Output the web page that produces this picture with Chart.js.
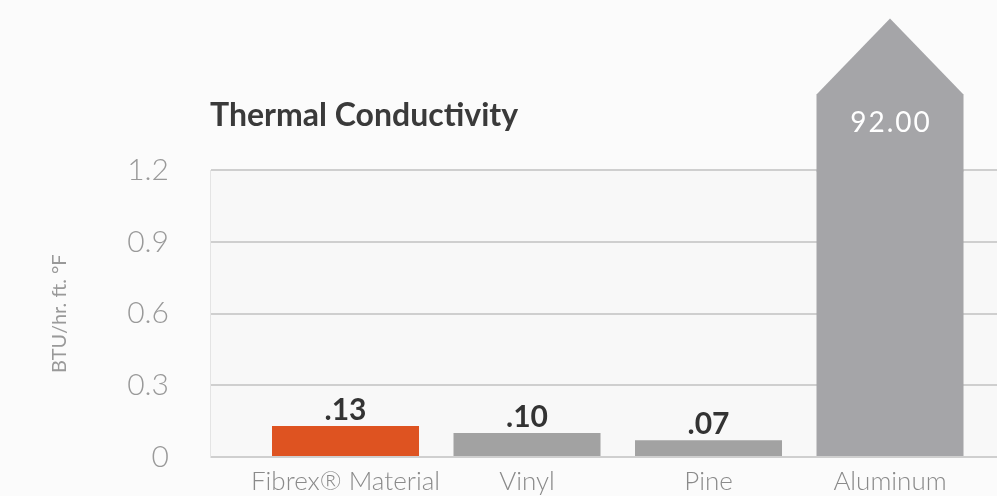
<!DOCTYPE html>
<html><head><meta charset="utf-8">
<script src="https://cdn.jsdelivr.net/npm/chart.js@4.4.1/dist/chart.umd.min.js"></script>
<style>html,body{margin:0;padding:0;background:#fbfbfb;} #wrap{width:997px;height:496px;position:relative;}</style>
</head><body><div id="wrap"><canvas id="c"></canvas></div>
<script>
const chartTitle = 'Thermal Conductivity';
const yAxisTitle = 'BTU/hr. ft. °F';
const categories = ['Fibrex® Material', 'Vinyl', 'Pine', 'Aluminum'];
const conductivity = [0.13, 0.10, 0.07, 92.00];
const valueLabels = ['.13', '.10', '.07', '92.00'];
const barColors = ['#de5321', '#a2a2a2', '#a2a2a2', '#a5a5a8'];
const yTicks = [0, 0.3, 0.6, 0.9, 1.2];

const arrowAndLabels = {
  id: 'arrowAndLabels',
  beforeDraw(chart) {
    const {ctx, chartArea: a} = chart;
    ctx.save();
    ctx.fillStyle = '#f8f8f8';
    ctx.fillRect(a.left, a.top, a.right - a.left, a.bottom - a.top);
    ctx.restore();
  },
  afterDatasetsDraw(chart) {
    const ctx = chart.ctx, a = chart.chartArea;
    const meta = chart.getDatasetMeta(0);
    meta.data.forEach((bar, i) => {
      const p = bar.getProps(['x', 'y', 'width'], true);
      ctx.save();
      if (p.y < a.top) {
        const l = p.x - p.width / 2, r = p.x + p.width / 2;
        const shoulder = a.top - 76, tip = a.top - 152;
        ctx.fillStyle = barColors[i];
        ctx.beginPath();
        ctx.moveTo(l, a.top + 1);
        ctx.lineTo(l, shoulder);
        ctx.lineTo(p.x, tip);
        ctx.lineTo(r, shoulder);
        ctx.lineTo(r, a.top + 1);
        ctx.closePath();
        ctx.fill();
        ctx.fillStyle = '#ffffff';
        ctx.font = '400 28px Lato';
        ctx.letterSpacing = '2px';
        ctx.textAlign = 'center';
        ctx.textBaseline = 'middle';
        ctx.fillText(valueLabels[i], p.x + 1, a.top - 47);
      } else {
        ctx.fillStyle = '#333333';
        ctx.font = '700 30px Lato';
        ctx.textAlign = 'center';
        ctx.textBaseline = 'alphabetic';
        ctx.fillText(valueLabels[i], p.x, p.y - 6);
      }
      ctx.restore();
    });
  }
};

new Chart(document.getElementById('c'), {
  type: 'bar',
  data: {
    datasets: [{
      data: categories.map((c, i) => ({x: i, y: conductivity[i]})),
      backgroundColor: barColors,
      borderWidth: 0,
      barPercentage: 0.81,
      categoryPercentage: 1,
      clip: 0
    }]
  },
  options: {
    responsive: true,
    maintainAspectRatio: false,
    animation: false,
    layout: {padding: 0},
    plugins: {
      legend: {display: false},
      tooltip: {enabled: false},
      title: {
        display: true,
        text: chartTitle,
        align: 'start',
        fullSize: false,
        color: '#3a3a3a',
        font: {family: 'Lato', weight: '700', size: 32, lineHeight: 1.2},
        padding: {top: 96, bottom: 36}
      }
    },
    scales: {
      x: {
        type: 'linear',
        offset: false,
        min: -0.7466,
        max: 3.5895,
        afterBuildTicks: s => { s.ticks = categories.map((c, i) => ({value: i})); },
        afterFit: s => { s.height = 39; },
        grid: {display: false, drawTicks: false},
        border: {display: false},
        ticks: {
          autoSkip: false,
          maxRotation: 0,
          padding: 12,
          color: '#8a8a8a',
          font: {family: 'Lato', weight: '300', size: 26, lineHeight: 1.0},
          callback: v => categories[v]
        }
      },
      y: {
        min: 0,
        max: 1.2,
        afterBuildTicks: s => { s.ticks = yTicks.map(v => ({value: v})); },
        afterFit: s => { s.width = 210; },
        grid: {color: '#cfcfcf', lineWidth: 2, drawTicks: true, tickLength: 41, tickColor: 'rgba(0,0,0,0)'},
        border: {display: true, color: '#e4e4e4', width: 1},
        ticks: {
          padding: 0,
          color: '#999999',
          font: {family: 'Lato', weight: '300', size: 30},
          callback: v => (v === 0 ? '0' : v.toFixed(1))
        },
        title: {
          display: true,
          text: yAxisTitle,
          color: '#999999',
          font: {family: 'Lato', weight: '400', size: 20, lineHeight: 1.2},
          padding: {top: 48, bottom: 0}
        }
      }
    }
  },
  plugins: [arrowAndLabels]
});
</script></body></html>
